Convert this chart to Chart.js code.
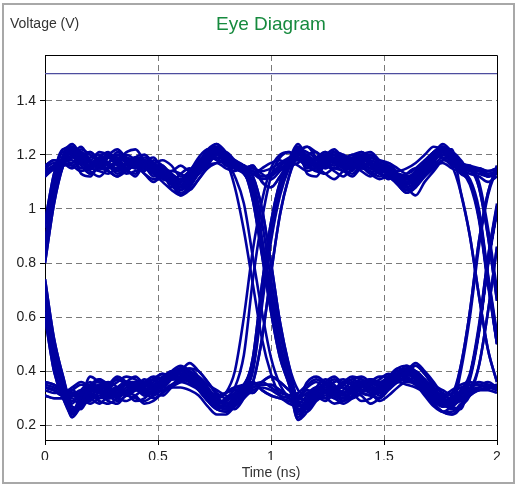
<!DOCTYPE html>
<html>
<head>
<meta charset="utf-8">
<title>Eye Diagram</title>
<script src="https://cdn.jsdelivr.net/npm/chart.js@4.4.1/dist/chart.umd.min.js"></script>
<style>
  html, body { margin: 0; padding: 0; background: #fff; }
  #frame { position: absolute; left: 2px; top: 3px; width: 509px; height: 477px; border: 2px solid #a8a8a8; background: #fff; }
</style>
</head>
<body>
<div id="frame"><canvas id="eye-chart"></canvas></div>
<script>
// sample times (ns), shared by every trace
const timesNs = [0,0.04,0.08,0.12,0.16,0.2,0.24,0.28,0.32,0.36,0.4,0.44,0.48,0.52,0.56,0.6,0.64,0.68,0.72,0.76,
  0.8,0.84,0.88,0.92,0.96,1,1.04,1.08,1.12,1.16,1.2,1.24,1.28,1.32,1.36,1.4,1.44,1.48,1.52,1.56,
  1.6,1.64,1.68,1.72,1.76,1.8,1.84,1.88,1.92,1.96,2];

const xTicks = [0, 0.5, 1, 1.5, 2];
const yTicks = [0.2, 0.4, 0.6, 0.8, 1, 1.2, 1.4];
const refLevel = 1.5;

// voltage traces (V)
const trace01 = [1.14,1.16,1.18, 1.23,1.20,1.15,1.19,1.21,1.17,1.14,1.19,1.20,1.16, 1.12,1.10,1.13,1.15,1.13,1.20,1.24,1.21,1.15,1.13,
  1.06,0.86,0.66,0.48,0.37, 0.24,0.27,0.33,0.35,0.31,0.30,0.34,0.36,0.33,0.32, 0.36,0.39,0.41,0.38,0.34,0.30,0.27,0.28,0.32,0.38, 0.55,0.80,1.00];
const trace02 = [0.84,1.06,1.17, 1.21,1.13,1.12,1.16,1.14,1.12,1.15,1.16,1.13,1.11, 1.12,1.09,1.06,1.08,1.13,1.16,1.17,1.15,1.14,1.16,
  1.08,0.89,0.69,0.50,0.38, 0.31,0.34,0.36,0.34,0.36,0.37,0.35,0.33,0.36,0.38, 0.38,0.36,0.39,0.42,0.39,0.35,0.33,0.31,0.30,0.32, 0.34,0.35,0.34];
const trace03 = [0.70,0.48,0.36, 0.23,0.28,0.34,0.34,0.30,0.31,0.35,0.35,0.32,0.33, 0.37,0.40,0.40,0.37,0.33,0.29,0.26,0.29,0.33,0.34,
  0.42,0.68,0.92,1.08,1.17, 1.22,1.21,1.19,1.20,1.22,1.19,1.20,1.21,1.19,1.18, 1.17,1.15,1.13,1.15,1.18,1.21,1.23,1.20,1.17,1.14, 1.14,1.12,1.13];
const trace04 = [0.34,0.33,0.31, 0.33,0.35,0.35,0.33,0.35,0.38,0.36,0.34,0.35,0.37, 0.39,0.37,0.38,0.41,0.40,0.36,0.32,0.30,0.31,0.33,
  0.45,0.72,0.95,1.10,1.18, 1.21,1.16,1.14,1.13,1.15,1.14,1.12,1.15,1.14,1.12, 1.13,1.11,1.08,1.05,1.10,1.14,1.18,1.19,1.17,1.10, 0.98,0.74,0.52];
const trace05 = [0.80,1.02,1.16, 1.24,1.20,1.18,1.21,1.20,1.18,1.21,1.22,1.18,1.17, 1.18,1.16,1.12,1.14,1.19,1.22,1.22,1.19,1.16,1.15,
  1.14,1.12,1.13,1.16,1.18, 1.19,1.15,1.18,1.21,1.18,1.15,1.18,1.16,1.13,1.16, 1.15,1.10,1.09,1.12,1.16,1.19,1.21,1.17,1.13,1.10, 0.97,0.73,0.50];
const trace06 = [0.74,0.52,0.38, 0.26,0.28,0.29,0.31,0.29,0.28,0.31,0.30,0.29,0.31, 0.33,0.35,0.36,0.35,0.33,0.29,0.26,0.25,0.28,0.31,
  0.34,0.35,0.35,0.33,0.31, 0.30,0.29,0.31,0.33,0.34,0.32,0.30,0.32,0.35,0.36, 0.34,0.36,0.38,0.40,0.37,0.34,0.32,0.29,0.29,0.38, 0.56,0.82,1.01];
const trace07 = [1.12,1.15,1.17, 1.16,1.14,1.15,1.14,1.13,1.15,1.13,1.14,1.15,1.13, 1.12,1.12,1.09,1.07,1.11,1.15,1.17,1.18,1.16,1.15,
  1.16,1.10,1.08,1.12,1.17, 1.19,1.19,1.16,1.17,1.19,1.18,1.16,1.20,1.17,1.14, 1.11,1.13,1.12,1.10,1.14,1.17,1.22,1.22,1.06,0.90, 0.68,0.48,0.36];
const trace08 = [0.34,0.33,0.31, 0.32,0.31,0.33,0.32,0.30,0.31,0.33,0.34,0.33,0.34, 0.36,0.37,0.37,0.39,0.38,0.35,0.33,0.31,0.30,0.32,
  0.32,0.36,0.38,0.36,0.33, 0.30,0.33,0.31,0.29,0.32,0.35,0.37,0.35,0.32,0.33, 0.37,0.39,0.37,0.36,0.35,0.32,0.29,0.31,0.42,0.62, 0.88,1.06,1.16];
const trace09 = [0.84,1.06,1.17, 1.22,1.17,1.16,1.19,1.17,1.14,1.17,1.18,1.15,1.14, 1.16,1.11,1.08,1.11,1.15,1.18,1.20,1.18,1.08,0.92,
  0.72,0.52,0.39,0.31,0.28, 0.27,0.29,0.34,0.37,0.35,0.31,0.32,0.34,0.37,0.35, 0.34,0.37,0.40,0.43,0.40,0.36,0.31,0.27,0.26,0.38, 0.55,0.80,1.00];
const trace10 = [0.70,0.48,0.36, 0.25,0.31,0.32,0.30,0.31,0.34,0.36,0.36,0.33,0.32, 0.36,0.38,0.38,0.37,0.34,0.31,0.30,0.32,0.40,0.60,
  0.85,1.03,1.15,1.20,1.21, 1.18,1.20,1.21,1.17,1.15,1.17,1.19,1.17,1.15,1.17, 1.14,1.12,1.10,1.13,1.17,1.20,1.19,1.16,1.15,1.10, 0.98,0.74,0.52];
const trace11 = [1.16,1.18,1.17, 1.20,1.17,1.15,1.18,1.20,1.17,1.15,1.19,1.18,1.15, 1.12,1.14,1.13,1.11,1.15,1.19,1.23,1.20,1.18,1.16,
  1.12,1.00,0.80,0.58,0.42, 0.30,0.36,0.38,0.36,0.34,0.36,0.38,0.37,0.35,0.37, 0.39,0.38,0.36,0.38,0.35,0.31,0.30,0.32,0.34,0.35, 0.36,0.35,0.33];
const trace12 = [0.36,0.35,0.33, 0.33,0.31,0.34,0.37,0.35,0.31,0.32,0.34,0.37,0.35, 0.34,0.37,0.40,0.43,0.40,0.36,0.31,0.27,0.26,0.30,
  0.36,0.52,0.76,0.98,1.12, 1.21,1.17,1.14,1.16,1.18,1.16,1.18,1.21,1.18,1.13, 1.15,1.13,1.09,1.11,1.14,1.18,1.20,1.21,1.18,1.14, 1.14,1.12,1.13];
const trace13 = [0.95,1.13,1.22, 1.23,1.20,1.21,1.17,1.15,1.17,1.19,1.17,1.15,1.17, 1.14,1.12,1.10,1.13,1.17,1.20,1.19,1.16,1.15,1.16,
  1.13,1.15,1.17,1.18,1.16, 1.17,1.20,1.15,1.19,1.21,1.17,1.14,1.19,1.20,1.16, 1.12,1.10,1.13,1.15,1.13,1.20,1.24,1.21,1.15,1.13, 1.12,1.10,1.12];
const trace14 = [0.60,0.40,0.30, 0.25,0.30,0.38,0.36,0.34,0.36,0.38,0.37,0.35,0.37, 0.39,0.38,0.36,0.38,0.35,0.31,0.30,0.32,0.34,0.35,
  0.36,0.33,0.31,0.30,0.29, 0.28,0.27,0.30,0.32,0.33,0.34,0.32,0.29,0.30,0.33, 0.35,0.38,0.39,0.37,0.33,0.30,0.28,0.26,0.27,0.31, 0.33,0.34,0.35];
const trace15 = [1.14,1.16,1.18, 1.18,1.15,1.16,1.18,1.16,1.14,1.17,1.19,1.16,1.12, 1.14,1.11,1.07,1.10,1.15,1.19,1.21,1.20,1.17,1.14,
  1.03,0.83,0.62,0.45,0.35, 0.22,0.27,0.30,0.30,0.28,0.29,0.32,0.31,0.28,0.30, 0.34,0.36,0.35,0.34,0.32,0.28,0.25,0.24,0.27,0.31, 0.42,0.62,0.86];
const trace16 = [0.31,0.30,0.30, 0.30,0.27,0.30,0.32,0.33,0.34,0.32,0.29,0.30,0.33, 0.35,0.38,0.39,0.37,0.33,0.30,0.28,0.26,0.27,0.31,
  0.42,0.68,0.92,1.08,1.17, 1.22,1.13,1.12,1.16,1.14,1.12,1.15,1.16,1.13,1.11, 1.12,1.09,1.06,1.08,1.13,1.16,1.17,1.15,1.14,1.16, 1.08,0.90,0.66];
const trace17 = [0.88,1.09,1.20, 1.24,1.18,1.13,1.16,1.20,1.19,1.15,1.12,1.17,1.19, 1.14,1.08,1.10,1.14,1.16,1.22,1.21,1.18,1.16,1.15,
  1.06,0.86,0.66,0.48,0.37, 0.23,0.28,0.32,0.30,0.33,0.36,0.35,0.32,0.31,0.35, 0.38,0.40,0.39,0.37,0.33,0.29,0.27,0.30,0.32,0.38, 0.55,0.80,1.00];
const trace18 = [0.70,0.48,0.36, 0.29,0.32,0.35,0.37,0.34,0.33,0.36,0.38,0.35,0.34, 0.37,0.40,0.42,0.40,0.37,0.33,0.30,0.32,0.34,0.34,
  0.40,0.64,0.88,1.05,1.15, 1.21,1.23,1.19,1.16,1.18,1.20,1.17,1.15,1.18,1.16, 1.13,1.10,1.11,1.14,1.17,1.21,1.23,1.19,1.15,1.10, 0.99,0.75,0.53];
const trace19 = [1.12,1.15,1.17, 1.19,1.22,1.20,1.18,1.20,1.22,1.19,1.18,1.20,1.17, 1.15,1.14,1.16,1.14,1.17,1.22,1.24,1.19,1.16,1.15,
  1.08,0.89,0.69,0.50,0.38, 0.26,0.25,0.29,0.33,0.32,0.30,0.33,0.35,0.32,0.30, 0.34,0.37,0.37,0.36,0.32,0.28,0.25,0.27,0.30,0.33, 0.34,0.35,0.34];
const trace20 = [0.34,0.33,0.31, 0.32,0.30,0.33,0.35,0.33,0.34,0.36,0.34,0.33,0.35, 0.37,0.38,0.37,0.39,0.37,0.33,0.29,0.28,0.30,0.34,
  0.42,0.68,0.92,1.08,1.17, 1.23,1.17,1.16,1.19,1.20,1.16,1.17,1.19,1.16,1.14, 1.16,1.12,1.10,1.11,1.15,1.18,1.22,1.19,1.16,1.14, 1.14,1.12,1.13];
const trace21 = [0.84,1.06,1.17, 1.22,1.18,1.15,1.17,1.16,1.13,1.15,1.17,1.16,1.13, 1.10,1.07,1.05,1.09,1.13,1.17,1.19,1.18,1.16,1.14,
  1.14,1.12,1.13,1.16,1.18, 1.16,1.14,1.15,1.13,1.11,1.14,1.16,1.14,1.12,1.14, 1.13,1.10,1.07,1.09,1.12,1.15,1.18,1.16,1.06,0.90, 0.68,0.48,0.36];
const trace22 = [0.66,0.45,0.33, 0.23,0.27,0.30,0.34,0.36,0.34,0.31,0.33,0.36,0.37, 0.35,0.38,0.41,0.41,0.38,0.34,0.30,0.28,0.30,0.33,
  0.32,0.36,0.38,0.36,0.33, 0.31,0.29,0.32,0.35,0.33,0.31,0.33,0.36,0.34,0.31, 0.35,0.38,0.40,0.39,0.35,0.31,0.28,0.29,0.42,0.62, 0.88,1.06,1.16];
const trace23 = [1.16,1.18,1.17, 1.15,1.17,1.14,1.12,1.15,1.17,1.14,1.13,1.16,1.14, 1.11,1.10,1.08,1.11,1.15,1.19,1.20,1.17,1.15,1.14,
  1.13,1.11,1.12,1.15,1.17, 1.18,1.16,1.18,1.20,1.17,1.14,1.16,1.18,1.17,1.15, 1.13,1.13,1.11,1.12,1.16,1.19,1.21,1.18,1.16,1.15, 1.14,1.13,1.14];
const trace24 = [0.36,0.35,0.33, 0.32,0.30,0.28,0.30,0.32,0.30,0.29,0.31,0.33,0.32, 0.31,0.34,0.36,0.37,0.34,0.30,0.27,0.26,0.29,0.32,
  0.34,0.35,0.35,0.33,0.31, 0.32,0.35,0.37,0.35,0.33,0.35,0.37,0.38,0.36,0.35, 0.38,0.40,0.39,0.37,0.34,0.32,0.31,0.33,0.35,0.36, 0.35,0.34,0.35];
const trace25 = [0.60,0.40,0.30, 0.24,0.29,0.35,0.33,0.30,0.32,0.35,0.34,0.31,0.33, 0.37,0.38,0.40,0.39,0.35,0.31,0.28,0.29,0.31,0.34,
  0.45,0.72,0.95,1.10,1.18, 1.23,1.19,1.15,1.17,1.19,1.17,1.15,1.18,1.20,1.16, 1.13,1.11,1.12,1.13,1.16,1.19,1.22,1.20,1.17,1.15, 1.15,1.13,1.14];
const trace26 = [0.95,1.13,1.22, 1.20,1.16,1.13,1.15,1.14,1.12,1.14,1.16,1.13,1.10, 1.12,1.09,1.05,1.07,1.11,1.16,1.20,1.18,1.15,1.13,
  1.06,0.86,0.66,0.48,0.37, 0.25,0.30,0.33,0.35,0.37,0.34,0.32,0.35,0.37,0.36, 0.35,0.38,0.41,0.42,0.39,0.34,0.30,0.28,0.29,0.32, 0.33,0.34,0.33];
const trace27 = [1.14,1.16,1.18, 1.17,1.21,1.18,1.16,1.19,1.20,1.17,1.15,1.18,1.17, 1.14,1.12,1.11,1.14,1.18,1.20,1.18,1.17,1.16,1.15,
  1.12,1.00,0.80,0.58,0.42, 0.33,0.31,0.33,0.36,0.38,0.35,0.34,0.36,0.37,0.36, 0.38,0.41,0.40,0.38,0.36,0.33,0.31,0.30,0.33,0.38, 0.55,0.80,1.00];
const trace28 = [0.31,0.30,0.30, 0.31,0.33,0.30,0.28,0.31,0.33,0.35,0.34,0.31,0.32, 0.35,0.38,0.38,0.36,0.34,0.30,0.28,0.29,0.31,0.33,
  0.36,0.52,0.76,0.98,1.12, 1.20,1.23,1.21,1.19,1.21,1.20,1.18,1.20,1.21,1.18, 1.16,1.14,1.15,1.17,1.20,1.23,1.22,1.19,1.15,1.10, 0.98,0.74,0.52];
const trace29 = [0.80,1.02,1.16, 1.21,1.19,1.17,1.19,1.16,1.14,1.17,1.19,1.16,1.14, 1.15,1.12,1.08,1.10,1.15,1.18,1.21,1.19,1.16,1.14,
  1.03,0.83,0.62,0.45,0.35, 0.22,0.25,0.30,0.34,0.33,0.31,0.32,0.35,0.36,0.34, 0.36,0.39,0.41,0.39,0.36,0.32,0.29,0.27,0.30,0.33, 0.42,0.62,0.86];
const trace30 = [0.74,0.52,0.38, 0.28,0.33,0.36,0.34,0.35,0.37,0.36,0.34,0.36,0.38, 0.37,0.39,0.41,0.39,0.36,0.33,0.31,0.32,0.33,0.34,
  0.42,0.68,0.92,1.08,1.17, 1.22,1.18,1.16,1.18,1.20,1.17,1.15,1.17,1.19,1.17, 1.14,1.11,1.09,1.12,1.16,1.21,1.23,1.20,1.17,1.15, 1.08,0.90,0.66];
const trace31 = [1.12,1.15,1.17, 1.16,1.18,1.17,1.15,1.17,1.19,1.17,1.15,1.17,1.15, 1.12,1.10,1.07,1.09,1.13,1.17,1.21,1.20,1.17,1.15,
  1.16,1.10,1.08,1.12,1.17, 1.19,1.17,1.14,1.16,1.18,1.15,1.13,1.16,1.15,1.13, 1.12,1.09,1.06,1.08,1.12,1.16,1.19,1.18,1.15,1.10, 0.97,0.73,0.50];
const trace32 = [0.34,0.33,0.31, 0.31,0.29,0.31,0.33,0.31,0.29,0.31,0.33,0.32,0.30, 0.32,0.35,0.37,0.36,0.33,0.29,0.26,0.25,0.28,0.31,
  0.36,0.33,0.31,0.30,0.29, 0.28,0.27,0.29,0.31,0.30,0.28,0.30,0.32,0.31,0.30, 0.33,0.36,0.37,0.35,0.32,0.28,0.25,0.24,0.27,0.38, 0.55,0.80,1.00];
const trace33 = [0.82,1.04,1.16, 1.20,1.23,1.18,1.15,1.17,1.21,1.19,1.16,1.14,1.18, 1.16,1.13,1.10,1.12,1.17,1.21,1.22,1.18,1.15,1.14,
  1.10,0.95,0.74,0.54,0.40, 0.29,0.26,0.31,0.36,0.34,0.32,0.35,0.37,0.34,0.33, 0.37,0.41,0.42,0.39,0.35,0.31,0.28,0.29,0.33,0.39, 0.57,0.82,1.02];
const trace34 = [0.72,0.50,0.37, 0.27,0.26,0.32,0.35,0.32,0.30,0.33,0.36,0.34,0.31, 0.34,0.39,0.41,0.38,0.35,0.31,0.27,0.27,0.31,0.35,
  0.43,0.70,0.93,1.09,1.18, 1.24,1.19,1.17,1.20,1.18,1.16,1.19,1.20,1.17,1.15, 1.17,1.13,1.09,1.11,1.16,1.20,1.22,1.18,1.14,1.11, 1.00,0.76,0.54];
const trace35 = [1.15,1.17,1.16, 1.17,1.19,1.21,1.18,1.16,1.18,1.20,1.18,1.15,1.16, 1.13,1.11,1.09,1.12,1.16,1.20,1.22,1.19,1.17,1.16,
  1.07,0.87,0.67,0.49,0.37, 0.28,0.31,0.34,0.32,0.30,0.33,0.36,0.35,0.33,0.34, 0.38,0.40,0.38,0.36,0.33,0.29,0.27,0.29,0.32,0.35, 0.35,0.36,0.34];
const trace36 = [0.33,0.32,0.32, 0.34,0.36,0.34,0.32,0.34,0.37,0.35,0.33,0.34,0.36, 0.38,0.40,0.39,0.38,0.36,0.32,0.29,0.29,0.32,0.35,
  0.44,0.70,0.94,1.09,1.18, 1.20,1.18,1.19,1.17,1.16,1.18,1.20,1.18,1.15,1.16, 1.14,1.11,1.08,1.10,1.15,1.19,1.21,1.20,1.17,1.15, 1.15,1.14,1.15];
const trace37 = [0.93,1.11,1.21, 1.21,1.17,1.19,1.20,1.17,1.15,1.16,1.18,1.17,1.14, 1.13,1.11,1.08,1.11,1.16,1.19,1.22,1.20,1.17,1.15,
  1.15,1.13,1.11,1.14,1.17, 1.20,1.18,1.16,1.18,1.19,1.16,1.15,1.17,1.16,1.14, 1.14,1.11,1.08,1.10,1.14,1.18,1.20,1.17,1.14,1.09, 0.96,0.72,0.50];
const trace38 = [0.62,0.42,0.31, 0.25,0.28,0.32,0.34,0.33,0.31,0.32,0.35,0.36,0.34, 0.35,0.37,0.40,0.40,0.37,0.33,0.28,0.26,0.29,0.33,
  0.35,0.36,0.34,0.32,0.31, 0.30,0.32,0.34,0.33,0.31,0.32,0.34,0.36,0.35,0.33, 0.36,0.39,0.41,0.40,0.36,0.32,0.29,0.28,0.31,0.37, 0.54,0.79,0.99];
const trace39 = [0.86,1.07,1.18, 1.22,1.19,1.16,1.18,1.19,1.16,1.14,1.17,1.18,1.15, 1.13,1.10,1.07,1.10,1.14,1.18,1.20,1.18,1.12,1.02,
  0.82,0.62,0.45,0.35,0.30, 0.26,0.28,0.32,0.35,0.34,0.32,0.33,0.35,0.36,0.34, 0.36,0.39,0.42,0.40,0.37,0.33,0.30,0.29,0.31,0.34, 0.35,0.34,0.34];
const trace40 = [0.68,0.46,0.35, 0.26,0.29,0.33,0.32,0.30,0.33,0.36,0.35,0.32,0.32, 0.35,0.38,0.39,0.38,0.34,0.30,0.28,0.30,0.34,0.46,
  0.74,0.96,1.12,1.19,1.21, 1.19,1.17,1.19,1.21,1.18,1.16,1.18,1.19,1.17,1.15, 1.15,1.12,1.10,1.12,1.17,1.21,1.22,1.19,1.16,1.14, 1.13,1.12,1.14];
const trace41 = [1.13,1.16,1.18, 1.19,1.17,1.15,1.17,1.19,1.18,1.15,1.16,1.19,1.17, 1.13,1.11,1.10,1.13,1.16,1.21,1.23,1.20,1.16,1.14,
  1.05,0.85,0.64,0.47,0.36, 0.25,0.27,0.31,0.33,0.32,0.29,0.31,0.34,0.35,0.32, 0.34,0.37,0.39,0.38,0.34,0.30,0.27,0.27,0.40,0.60, 0.86,1.05,1.15];
const trace42 = [0.35,0.34,0.32, 0.31,0.32,0.35,0.36,0.33,0.32,0.34,0.36,0.35,0.33, 0.36,0.39,0.41,0.39,0.36,0.32,0.28,0.27,0.30,0.33,
  0.41,0.66,0.90,1.07,1.16, 1.21,1.20,1.17,1.15,1.17,1.19,1.18,1.16,1.17,1.16, 1.13,1.10,1.07,1.09,1.14,1.18,1.21,1.19,1.16,1.15, 1.10,0.93,0.70];
const trace43 = [0.86,1.08,1.19, 1.23,1.21,1.17,1.16,1.19,1.20,1.18,1.16,1.17,1.16, 1.15,1.13,1.11,1.12,1.15,1.18,1.21,1.21,1.18,1.16,
  1.15,1.14,1.15,1.17,1.19, 1.21,1.19,1.17,1.18,1.20,1.19,1.17,1.19,1.20,1.17, 1.15,1.12,1.11,1.13,1.17,1.21,1.23,1.21,1.17,1.16, 1.15,1.14,1.15];
const trace44 = [0.72,0.50,0.37, 0.24,0.28,0.31,0.29,0.28,0.30,0.32,0.31,0.28,0.29, 0.32,0.34,0.34,0.33,0.31,0.27,0.24,0.24,0.27,0.30,
  0.33,0.34,0.33,0.31,0.30, 0.29,0.28,0.30,0.32,0.31,0.29,0.31,0.33,0.32,0.29, 0.31,0.34,0.36,0.35,0.31,0.27,0.25,0.25,0.28,0.31, 0.33,0.33,0.32];

const traces = [trace01, trace02, trace03, trace04, trace05, trace06, trace07, trace08,
  trace09, trace10, trace11, trace12, trace13, trace14, trace15, trace16,
  trace17, trace18, trace19, trace20, trace21, trace22, trace23, trace24,
  trace25, trace26, trace27, trace28, trace29, trace30, trace31, trace32,
  trace33, trace34, trace35, trace36, trace37, trace38, trace39, trace40,
  trace41, trace42, trace43, trace44];

const FONT = '"Liberation Sans", Arial, sans-serif';

const datasets = [{
  data: [{x: xTicks[0], y: refLevel}, {x: xTicks[xTicks.length - 1], y: refLevel}],
  borderColor: '#4d4d9e',
  borderWidth: 1.2,
  pointRadius: 0
}];
traces.forEach(tr => {
  datasets.push({
    data: timesNs.map((t, i) => ({x: t, y: tr[i]})),
    borderColor: '#0000a0',
    borderWidth: 2.6,
    pointRadius: 0,
    cubicInterpolationMode: 'monotone'
  });
});

// title, axis names and the top/right edges of the plot box
const eyeText = {
  id: 'eyeText',
  afterDraw(chart) {
    const {ctx, chartArea: a} = chart;
    const mid = (a.left + a.right) / 2;
    ctx.save();
    ctx.strokeStyle = '#000';
    ctx.lineWidth = 1;
    ctx.beginPath();
    ctx.moveTo(Math.round(a.left), Math.round(a.top) + 0.5);
    ctx.lineTo(Math.round(a.right) + 0.5, Math.round(a.top) + 0.5);
    ctx.lineTo(Math.round(a.right) + 0.5, Math.round(a.bottom));
    ctx.stroke();

    ctx.textBaseline = 'alphabetic';
    ctx.fillStyle = '#168a3e';
    ctx.font = '19px ' + FONT;
    ctx.textAlign = 'center';
    ctx.fillText('Eye Diagram', mid, 24.5);

    ctx.fillStyle = '#333';
    ctx.font = '14px ' + FONT;
    ctx.textAlign = 'left';
    ctx.fillText('Voltage (V)', 6, 23);
    ctx.textAlign = 'center';
    ctx.fillText('Time (ns)', mid, 472);
    ctx.restore();
  }
};

const hideEdges = (lo, hi) => c =>
  (c.tick && (c.tick.value === lo || c.tick.value === hi)) ? 'rgba(0,0,0,0)' : '#7a7a7a';

const config = {
  type: 'line',
  data: {datasets: datasets},
  options: {
    responsive: true,
    maintainAspectRatio: false,
    animation: false,
    layout: {padding: {left: 1, right: 16, top: 50, bottom: 22}},
    plugins: {
      legend: {display: false},
      title: {display: false},
      tooltip: {enabled: false}
    },
    scales: {
      x: {
        type: 'linear',
        min: 0,
        max: 2,
        afterBuildTicks: s => { s.ticks = xTicks.map(v => ({value: v})); },
        afterFit: s => { s.height = 20; },
        ticks: {color: '#202020', font: {family: FONT, size: 14}, padding: 4, maxRotation: 0, callback: v => String(v)},
        grid: {color: hideEdges(0, 2), lineWidth: 1, tickLength: 5, tickColor: '#000'},
        border: {display: true, color: '#000', width: 1, dash: [6, 4]}
      },
      y: {
        type: 'linear',
        min: 0.1457,
        max: 1.569,
        afterBuildTicks: s => { s.ticks = yTicks.map(v => ({value: v})); },
        afterFit: s => { s.width = 40; },
        ticks: {color: '#202020', font: {family: FONT, size: 14}, padding: 4, callback: v => String(v)},
        grid: {color: '#7a7a7a', lineWidth: 1, tickLength: 5, tickColor: '#000'},
        border: {display: true, color: '#000', width: 1, dash: [6, 4]}
      }
    }
  },
  plugins: [eyeText]
};

let myChart = new Chart(document.getElementById('eye-chart'), config);
</script>
</body>
</html>
